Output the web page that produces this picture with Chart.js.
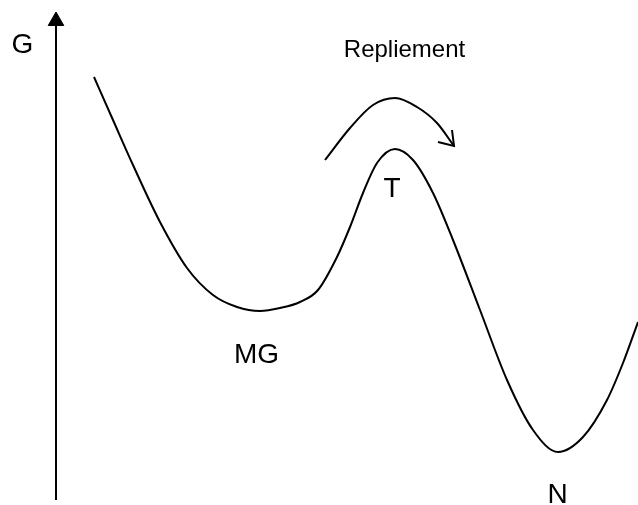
<!DOCTYPE html>
<html lang="fr">
<head>
    <meta charset="UTF-8">
    <title>Repliement</title>
    <script src="https://cdn.jsdelivr.net/npm/chart.js"></script>
    <style>
        body { margin: 0; background: #fff; }
        .wrap { width: 638px; height: 505px; position: relative; }
    </style>
</head>
<body>
    <div class="wrap">
        <canvas id="energieChart"></canvas>
    </div>
    <script>
// profil d'energie libre (x, G)
const profilX = [94, 113, 133, 160, 187, 213, 237, 260, 280, 300, 318, 337, 350, 363, 377, 395, 413, 433, 453, 480, 507, 533, 558, 583, 607, 623, 638];
const profilG = [428, 385, 340, 283, 237, 210, 198, 194, 197, 203, 215, 248, 278, 312, 342, 356, 345, 312, 265, 195, 125, 75, 53, 68, 105, 142, 183];

// fleche "Repliement"
const flecheX = [325, 350, 373, 395, 417, 437, 454];
const flecheG = [345, 377, 400, 407, 398, 382, 359];
const pointeX = [438, 454, 452];
const pointeG = [363, 359, 375];

// axe G
const axeX = [56, 56];
const axeG = [5, 480];

// etiquettes
const etiquettes = ['G', 'Repliement', 'T', 'MG', 'N'];
const etiqX = [22.5, 404.5, 392, 256.5, 557.5];
const etiqG = [452, 448, 308, 142, 2];

const pts = (xs, ys) => xs.map((x, i) => ({ x: x, y: ys[i] }));

const ligne = {
    borderColor: '#000',
    borderWidth: 2,
    pointRadius: 0,
    pointHoverRadius: 0,
    showLine: true,
    fill: false
};

const textes = {
    id: 'textes',
    afterDatasetsDraw(chart) {
        const ctx = chart.ctx;
        const sx = chart.scales.x, sy = chart.scales.y;
        ctx.save();
        ctx.fillStyle = '#000';
        ctx.textAlign = 'center';
        ctx.textBaseline = 'alphabetic';
        etiquettes.forEach((t, i) => {
            const taille = t === 'Repliement' ? 24 : 28;
            ctx.font = taille + 'px "Liberation Sans", Arial, sans-serif';
            ctx.fillText(t, sx.getPixelForValue(etiqX[i]), sy.getPixelForValue(etiqG[i]));
        });
        ctx.restore();
    }
};

new Chart(document.getElementById('energieChart'), {
    type: 'scatter',
    data: {
        datasets: [
            Object.assign({ data: pts(profilX, profilG), cubicInterpolationMode: 'monotone' }, ligne),
            Object.assign({ data: pts(flecheX, flecheG), cubicInterpolationMode: 'monotone' }, ligne),
            Object.assign({ data: pts(pointeX, pointeG), tension: 0 }, ligne),
            Object.assign({ data: pts(axeX, axeG), tension: 0 }, ligne),
            {
                data: [{ x: 56, y: 484 }],
                pointStyle: 'triangle',
                pointRadius: 9,
                pointHoverRadius: 9,
                backgroundColor: '#000',
                borderColor: '#000',
                borderWidth: 1
            }
        ]
    },
    options: {
        responsive: true,
        maintainAspectRatio: false,
        animation: false,
        layout: { padding: 0, autoPadding: false },
        plugins: { legend: { display: false }, tooltip: { enabled: false } },
        scales: {
            x: { type: 'linear', min: 0, max: 638, display: false },
            y: { type: 'linear', min: 0, max: 505, display: false }
        }
    },
    plugins: [textes]
});
    </script>
</body>
</html>
